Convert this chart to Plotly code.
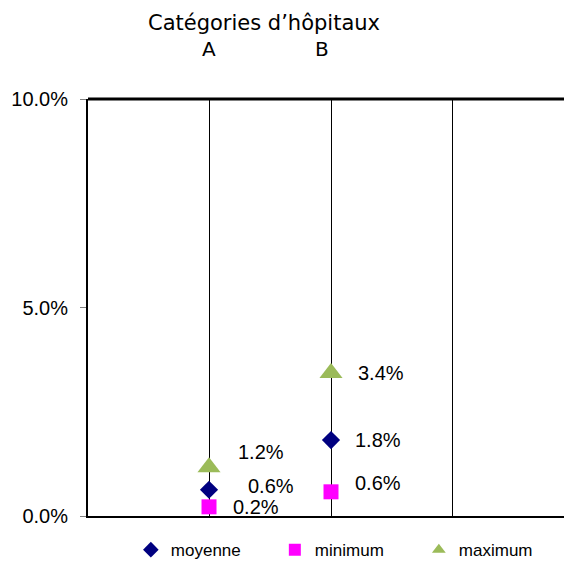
import plotly.graph_objects as go

# data
categories = ["A", "B"]
cat_pos = [1, 2]
moyenne = [0.0063, 0.0182]
minimum = [0.0022, 0.0058]
maximum = [0.0117, 0.0343]

fig = go.Figure()

series = [
    ("moyenne", moyenne, "diamond", "#000080", 14),
    ("minimum", minimum, "square", "#FF00FF", 15),
    ("maximum", maximum, "triangle-up", "#9BBB59", 20),
]
for name, vals, sym, col, size in series:
    fig.add_trace(go.Scatter(
        x=cat_pos, y=vals, name=name, mode="markers",
        marker=dict(symbol=sym, color=col, size=size),
        cliponaxis=False,
    ))

# data labels, nudged like the original
shifts = {
    "moyenne": [(37, 4), (22, 0)],
    "minimum": [(22, 0), (22, 9)],
    "maximum": [(27, 15), (25, 0)],
}
for name, vals, *_ in series:
    for i, v in enumerate(vals):
        dx, dy = shifts[name][i]
        fig.add_annotation(
            x=cat_pos[i], y=v, text=f"{v:.1%}", showarrow=False,
            xanchor="left", yanchor="middle", xshift=dx, yshift=dy,
            font=dict(family="Liberation Sans, Arial", size=20, color="black"),
        )

# category labels and title above the plot
for i, c in enumerate(categories):
    fig.add_annotation(
        x=cat_pos[i] - 0.07 * i, y=1, xref="x", yref="paper", yshift=50,
        text=c, showarrow=False, yanchor="middle",
        font=dict(family="DejaVu Sans", size=20, color="black"),
    )
fig.add_annotation(
    x=1.45, y=1, xref="x", yref="paper", yshift=76,
    text="Catégories d’hôpitaux", showarrow=False, yanchor="middle",
    font=dict(family="DejaVu Sans", size=21, color="black"),
)

fig.add_shape(type="line", xref="paper", yref="paper", x0=0, x1=1, y0=1, y1=1,
              line=dict(color="black", width=3))

fig.update_layout(
    width=564, height=569,
    margin=dict(l=88, r=0, t=99, b=53),
    plot_bgcolor="white", paper_bgcolor="white",
    showlegend=True,
    legend=dict(
        orientation="h", x=0.09, y=-0.125, xanchor="left", yanchor="bottom",
        entrywidth=99, entrywidthmode="pixels", itemsizing="constant",
        font=dict(family="Liberation Sans, Arial", size=17, color="black"),
        itemwidth=30, tracegroupgap=0,
    ),
)
fig.update_xaxes(
    range=[0.008, 3.91], tickvals=[1, 2, 3], showticklabels=False,
    showgrid=True, gridcolor="black", gridwidth=1, zeroline=False,
    showline=True, linecolor="black", linewidth=2,
)
fig.update_yaxes(
    range=[0, 0.1], tickvals=[0, 0.05, 0.1], tickformat=".1%",
    showgrid=False, zeroline=False, showline=True, linecolor="black",
    linewidth=2, ticks="outside", ticklen=6, tickcolor="gray",
    ticklabelstandoff=8,
    tickfont=dict(family="Liberation Sans, Arial", size=20, color="black"),
)

fig.write_html("out.html", config={"displayModeBar": False},
               post_script="document.body.style.margin='0';")
